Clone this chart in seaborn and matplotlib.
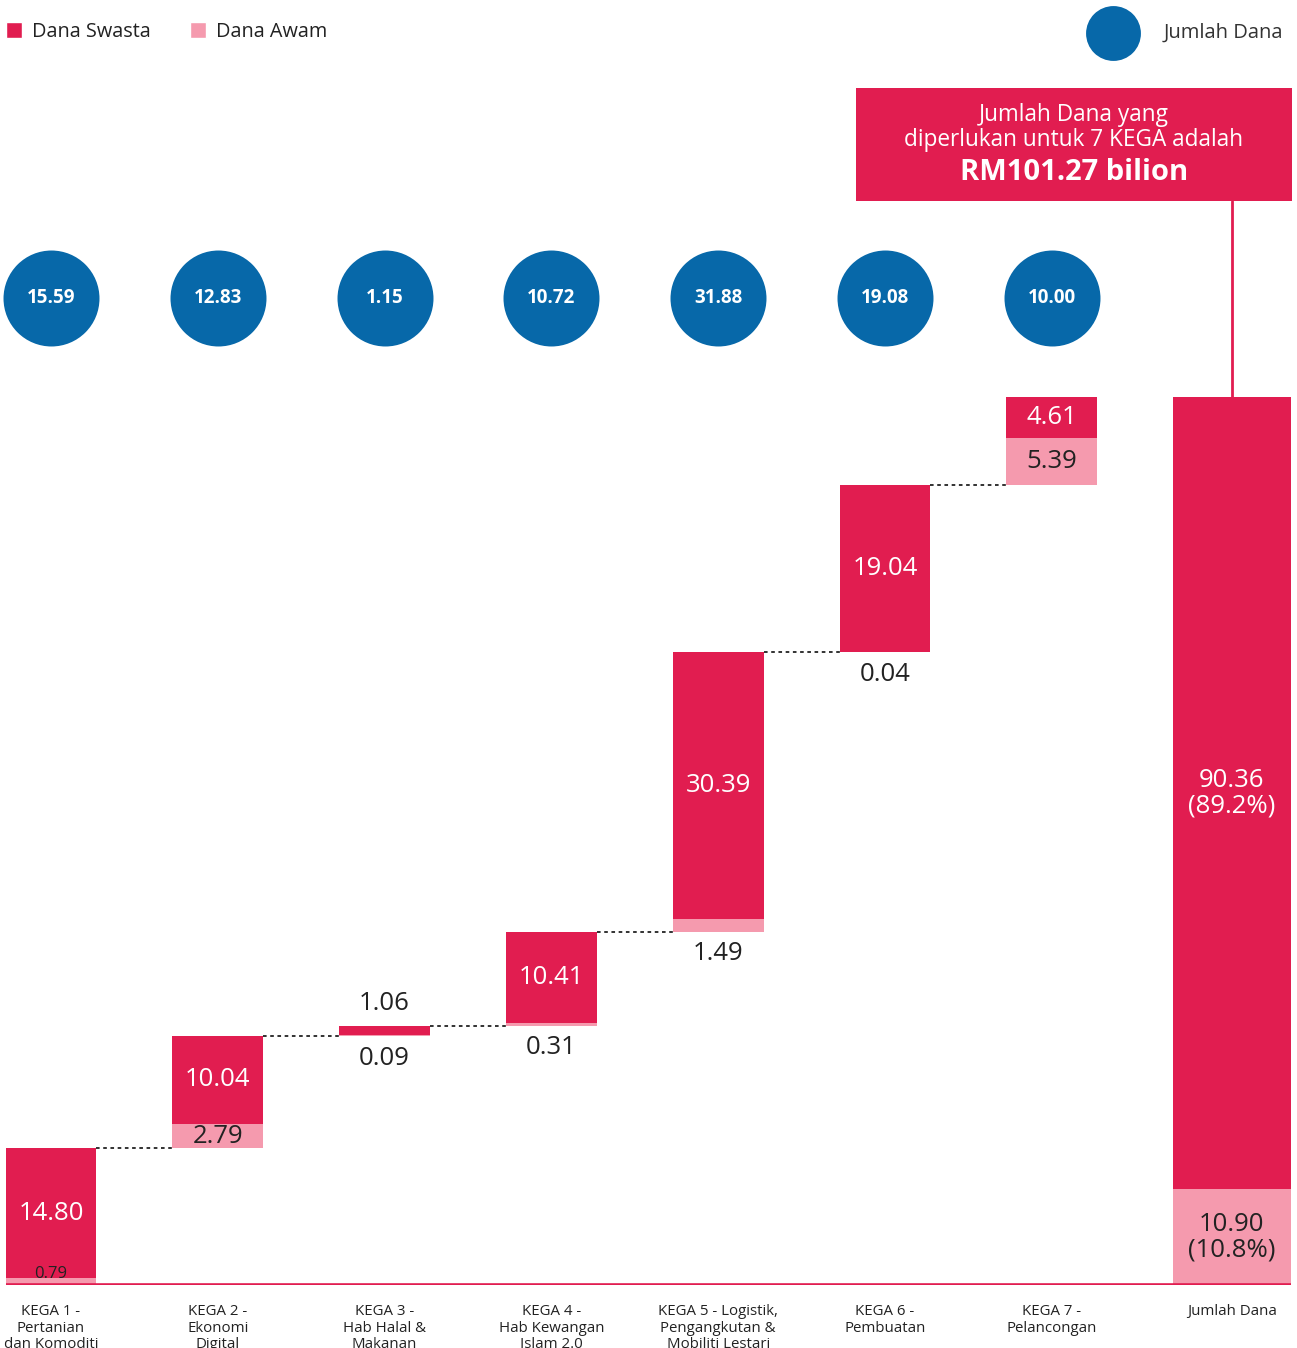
import numpy as np
import matplotlib
matplotlib.use("Agg")
import matplotlib.pyplot as plt
import seaborn as sns
from matplotlib.patches import Patch, Rectangle

# Data
kega_labels = [
    "KEGA 1 -\nPertanian\ndan Komoditi",
    "KEGA 2 -\nEkonomi\nDigital",
    "KEGA 3 -\nHab Halal &\nMakanan",
    "KEGA 4 -\nHab Kewangan\nIslam 2.0",
    "KEGA 5 - Logistik,\nPengangkutan &\nMobiliti Lestari",
    "KEGA 6 -\nPembuatan",
    "KEGA 7 -\nPelancongan",
]
total_label = "Jumlah Dana"
dana_swasta = [14.80, 10.04, 1.06, 10.41, 30.39, 19.04, 4.61]
dana_awam = [0.79, 2.79, 0.09, 0.31, 1.49, 0.04, 5.39]
jumlah_dana = [15.59, 12.83, 1.15, 10.72, 31.88, 19.08, 10.00]
total_swasta = 90.36
total_awam = 10.90
total_dana = 101.27

# Colours
RED = "#E11D50"
PINK = "#F59AAE"
BLUE = "#0768A9"
DARK = "#222222"

sns.set_theme(style="white")
plt.rcParams["font.family"] = ["Open Sans", "DejaVu Sans"]

W, H = 1297, 1348
fig = plt.figure(figsize=(W / 100, H / 100), dpi=100)
base_px = 1285
ax = fig.add_axes([0, (H - base_px) / H, 1, base_px / H])

px_per_unit = 888 / total_dana
px_per_cat = 166.8
ax.set_ylim(0, base_px / px_per_unit)
ax.set_xlim(-51 / px_per_cat, (W - 51) / px_per_cat)

n = len(kega_labels)
x = np.arange(n)
total_x = n + 0.08
bar_w = 0.545
total_w = 0.71

bases = np.concatenate([[0], np.cumsum(jumlah_dana)[:-1]])
awam = np.array(dana_awam)
swasta = np.array(dana_swasta)

ax.bar(x, awam, bottom=bases, width=bar_w, color=PINK, linewidth=0, zorder=2)
ax.bar(x, swasta, bottom=bases + awam, width=bar_w, color=RED, linewidth=0, zorder=2)
ax.bar(total_x, total_awam, width=total_w, color=PINK, linewidth=0, zorder=2)
ax.bar(total_x, total_swasta, bottom=total_awam, width=total_w, color=RED, linewidth=0, zorder=2)

# dotted connectors
tops = bases + np.array(jumlah_dana)
for i in range(n - 1):
    ax.plot([x[i] + bar_w / 2, x[i + 1] - bar_w / 2], [tops[i], tops[i]],
            color=DARK, lw=1.3, ls=(0, (2, 2)), zorder=1)

# baseline
ax.plot([-0.27, total_x + total_w / 2], [0, 0], color=RED, lw=2.6, zorder=3,
        solid_capstyle="butt")

# value labels
VAL_FS = 18.5
for i in range(n):
    b, a, s = bases[i], awam[i], swasta[i]
    if s >= 2:
        ax.text(x[i], b + a + s / 2, f"{s:.2f}", ha="center", va="center",
                color="white", fontsize=VAL_FS, zorder=4)
    else:
        ax.annotate(f"{s:.2f}", (x[i], b + a + s), xytext=(0, 7),
                    textcoords="offset points", ha="center", va="bottom",
                    color=DARK, fontsize=VAL_FS, zorder=4)
    if a >= 2:
        ax.text(x[i], b + a / 2, f"{a:.2f}", ha="center", va="center",
                color=DARK, fontsize=VAL_FS, zorder=4)
    elif b == 0:
        ax.annotate(f"{a:.2f}", (x[i], b), xytext=(0, 2.5),
                    textcoords="offset points", ha="center", va="bottom",
                    color=DARK, fontsize=12, zorder=4)
    else:
        ax.annotate(f"{a:.2f}", (x[i], b), xytext=(0, -7),
                    textcoords="offset points", ha="center", va="top",
                    color=DARK, fontsize=VAL_FS, zorder=4)

ax.text(total_x, total_awam + total_swasta / 2,
        f"{total_swasta:.2f}\n({total_swasta / total_dana * 100:.1f}%)",
        ha="center", va="center", color="white", fontsize=VAL_FS, linespacing=1.05, zorder=4)
ax.text(total_x, total_awam / 2,
        f"{total_awam:.2f}\n({total_awam / total_dana * 100:.1f}%)",
        ha="center", va="center", color=DARK, fontsize=VAL_FS, linespacing=1.05, zorder=4)

# circles with totals per KEGA
circle_y = (base_px - 298) / px_per_unit
ax.scatter(x, [circle_y] * n, s=4775, color=BLUE, linewidths=0, clip_on=False, zorder=3)
for i in range(n):
    ax.text(x[i], circle_y, f"{jumlah_dana[i]:.2f}", ha="center", va="center",
            color="white", fontsize=13.5, fontweight="bold", zorder=4)

# x tick labels
ax.set_xticks(list(x) + [total_x])
ax.set_xticklabels(kega_labels + [total_label], fontsize=10.8, color=DARK,
                   linespacing=1.12, va="top")
ax.tick_params(axis="x", length=0, pad=14)
ax.set_yticks([])
sns.despine(ax=ax, left=True, bottom=True)

# summary box + connector
box = Rectangle((856 / W, 1 - 201 / H), 436 / W, 113 / H, transform=fig.transFigure,
                facecolor=RED, edgecolor="none")
fig.patches.append(box)
fig.text(1074 / W, 1 - 115 / H, "Jumlah Dana yang", ha="center", va="center",
         color="white", fontsize=16.3)
fig.text(1074 / W, 1 - 140 / H, "diperlukan untuk 7 KEGA adalah", ha="center",
         va="center", color="white", fontsize=16.3)
fig.text(1074 / W, 1 - 172 / H, f"RM{total_dana:.2f} bilion", ha="center",
         va="center", color="white", fontsize=21, fontweight="bold")
box_bottom = (base_px - 201) / px_per_unit
ax.plot([total_x, total_x], [total_dana, box_bottom], color=RED, lw=2,
        clip_on=False, zorder=1)

# legends
handles = [Patch(facecolor=RED, label="Dana Swasta"),
           Patch(facecolor=PINK, label="Dana Awam")]
fig.legend(handles=handles, loc="upper left", bbox_to_anchor=(-8 / W, 1 - 8 / H),
           ncol=2, frameon=False, fontsize=14.3, handlelength=0.8,
           handleheight=0.8, handletextpad=0.5, columnspacing=2.0,
           borderaxespad=0.3, labelcolor=DARK)
ax.scatter([1113 / W], [1 - 33 / H], s=1560, color=BLUE, linewidths=0,
           transform=fig.transFigure, clip_on=False, zorder=3)
fig.text(1283 / W, 1 - 33 / H, "Jumlah Dana", ha="right", va="center",
         color="#333333", fontsize=14.5)

fig.savefig("out.png", dpi=100)
